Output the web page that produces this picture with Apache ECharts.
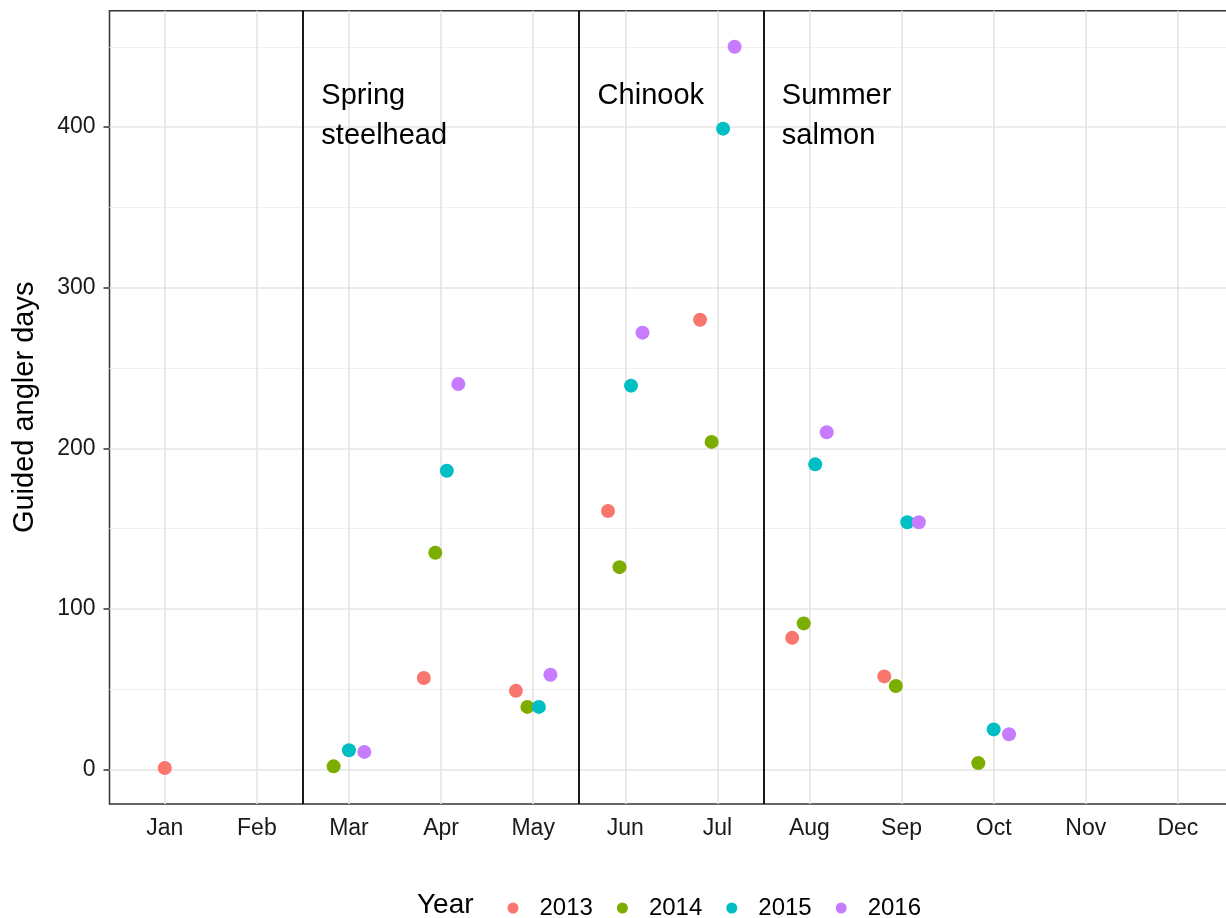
<!DOCTYPE html>
<html>
<head>
<meta charset="utf-8">
<script src="https://cdn.jsdelivr.net/npm/echarts@6/dist/echarts.min.js"></script>
<style>
  html, body { margin: 0; padding: 0; background: #fff; }
  #chart { width: 1226px; height: 918px; }
</style>
</head>
<body>
<div id="chart"></div>
<script>
// ---- data ----
const months = ['Jan','Feb','Mar','Apr','May','Jun','Jul','Aug','Sep','Oct','Nov','Dec'];
const years = ['2013','2014','2015','2016'];
const v2013 = [1, null, null, 57, 49, 161, 280, 82, 58, null, null, null];
const v2014 = [null, null, 2, 135, 39, 126, 204, 91, 52, 4, null, null];
const v2015 = [null, null, 12, 186, 39, 239, 399, 190, 154, 25, null, null];
const v2016 = [null, null, 11, 240, 59, 272, 450, 210, 154, 22, null, null];
const yMajorTicks = [0, 100, 200, 300, 400];
const yMinorTicks = [50, 150, 250, 350, 450];
const seasonBreaks = [1.5, 4.5, 6.5];
const seasonNames = ['Spring\nsteelhead', 'Chinook', 'Summer\nsalmon'];
const seasonNameX = [1.7, 4.7, 6.7];
const seasonNameY = 432;

// ---- styling ----
const colors = ['#F8766D', '#7CAE00', '#00BFC4', '#C77CFF'];
const FONT = 'Liberation Sans, Arial, Helvetica, sans-serif';

const valuesByYear = [v2013, v2014, v2015, v2016];

// position_dodge (width 0.5) within each month
const dodgeWidth = 0.5;
const yearSeries = years.map((yr, k) => {
  const data = [];
  months.forEach((m, i) => {
    const v = valuesByYear[k][i];
    if (v == null) return;
    const present = valuesByYear.map((arr, j) => arr[i] != null ? j : -1).filter(j => j >= 0);
    const n = present.length;
    const idx = present.indexOf(k);
    const off = (idx - (n - 1) / 2) * dodgeWidth / n;
    data.push([i + off, v]);
  });
  return {
    name: yr,
    type: 'scatter',
    z: 5,
    symbol: 'circle',
    symbolSize: 14,
    itemStyle: { color: colors[k], opacity: 1 },
    data: data,
    animation: false
  };
});

// y range like ggplot: 5% expansion of data range
const allVals = valuesByYear.flat().filter(v => v != null);
const dMin = Math.min(...allVals), dMax = Math.max(...allVals);
const pad = (dMax - dMin) * 0.05;
const yMin = dMin - pad, yMax = dMax + pad;

const gridLines = [];
yMinorTicks.forEach(v => gridLines.push({ yAxis: v, lineStyle: { color: '#EFEFEF', width: 1, type: 'solid' } }));
yMajorTicks.forEach(v => gridLines.push({ yAxis: v, lineStyle: { color: '#E4E4E4', width: 1.6, type: 'solid' } }));
months.forEach((m, i) => gridLines.push({ xAxis: i, lineStyle: { color: '#E4E4E4', width: 1.6, type: 'solid' } }));
const sepLines = seasonBreaks.map(v => ({ xAxis: v, lineStyle: { color: '#000', width: 1.8, type: 'solid' } }));

const markLineBase = {
  silent: true,
  animation: false,
  symbol: ['none', 'none'],
  label: { show: false },
  emphasis: { disabled: true }
};

const gridSeries = {
  name: 'grid',
  type: 'scatter',
  z: 1,
  symbolSize: 0,
  silent: true,
  animation: false,
  data: [[0, 0]],
  markLine: Object.assign({}, markLineBase, { data: gridLines })
};

const sepSeries = {
  name: 'seasons',
  type: 'scatter',
  z: 2,
  symbolSize: 0,
  silent: true,
  animation: false,
  data: [[0, 0]],
  markLine: Object.assign({}, markLineBase, { data: sepLines })
};

const chart = echarts.init(document.getElementById('chart'), null, { renderer: 'canvas' });
chart.setOption({
  animation: false,
  backgroundColor: '#fff',
  color: colors,
  grid: {
    left: 109.5,
    width: 1123.6,
    top: 10.7,
    height: 793.3,
    outerBoundsMode: 'none',
    containLabel: false,
    show: true,
    borderColor: '#333',
    borderWidth: 1.5,
    backgroundColor: 'transparent'
  },
  xAxis: {
    type: 'value',
    min: -0.6,
    max: 11.6,
    axisLine: { show: false, onZero: false },
    axisTick: { show: false },
    splitLine: { show: false },
    axisLabel: {
      customValues: months.map((m, i) => i),
      formatter: v => months[Math.round(v)] || '',
      fontFamily: FONT,
      fontSize: 23,
      color: '#1a1a1a',
      margin: 13
    }
  },
  yAxis: {
    type: 'value',
    min: yMin,
    max: yMax,
    name: 'Guided angler days',
    nameLocation: 'middle',
    nameGap: 70,
    nameTextStyle: { fontFamily: FONT, fontSize: 29, color: '#000' },
    axisLine: { show: false, onZero: false },
    axisTick: { show: true, customValues: yMajorTicks, length: 6, lineStyle: { color: '#333', width: 1.5 } },
    splitLine: { show: false },
    axisLabel: {
      customValues: yMajorTicks,
      fontFamily: FONT,
      fontSize: 23,
      color: '#1a1a1a',
      margin: 14
    }
  },
  legend: {
    data: years,
    orient: 'horizontal',
    left: 502.5,
    top: 891,
    itemWidth: 11,
    itemHeight: 11,
    itemGap: 24,
    icon: 'circle',
    selectedMode: false,
    textStyle: { fontFamily: FONT, fontSize: 24, color: '#000', padding: [0, 0, 0, 16] }
  },
  series: [gridSeries, sepSeries].concat(yearSeries)
});

// season annotations placed through the chart's own scales
const annoGraphics = seasonNames.map((s, i) => {
  const p = chart.convertToPixel({ gridIndex: 0 }, [seasonNameX[i], seasonNameY]);
  return {
    type: 'text',
    x: p[0],
    y: p[1],
    z: 10,
    silent: true,
    style: {
      text: s,
      fontFamily: FONT,
      fontSize: 29,
      lineHeight: 40,
      fill: '#000',
      align: 'left',
      verticalAlign: 'top'
    }
  };
});
chart.setOption({
  graphic: [{
    type: 'text',
    left: 417,
    top: 891,
    style: { text: 'Year', fontFamily: FONT, fontSize: 28, fill: '#000' }
  }].concat(annoGraphics)
});
</script>
</body>
</html>
